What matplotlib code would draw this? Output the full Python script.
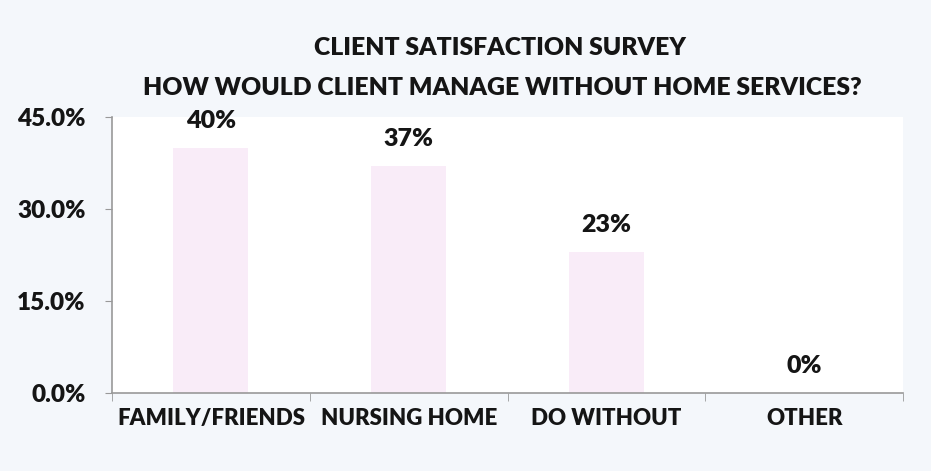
import numpy as np
import matplotlib.pyplot as plt
from matplotlib.ticker import FixedLocator, FuncFormatter

#-----DATA--------------------------------------------------------
categories = ["FAMILY/FRIENDS", "NURSING HOME", "DO WITHOUT", "OTHER"]
shares = [40, 37, 23, 0]       # percent of clients
y_ticks = [0, 15, 30, 45]
#-----/DATA-------------------------------------------------------

plt.rcParams['font.family'] = ['Lato', 'DejaVu Sans']
plt.rcParams['font.weight'] = 'heavy'
txt = '#151515'

fig = plt.figure(figsize=(9.31, 4.71), dpi=100, facecolor='#f4f7fb')
ax = fig.add_axes([0.1203, 0.1656, 0.8497, 0.586])
ax.set_facecolor('white')

x = np.arange(len(categories))
bars = ax.bar(x, shares, width=0.38, color='#f9ecf8', edgecolor='none')

for xi, v in zip(x, shares):
    ax.text(xi, v + 4.4, f"{v}%", ha='center', va='center',
            fontsize=18, fontweight='heavy', color=txt)

ax.set_xlim(-0.5, len(categories) - 0.5)
ax.set_ylim(0, 45)
ax.yaxis.set_major_locator(FixedLocator(y_ticks))
ax.yaxis.set_major_formatter(FuncFormatter(lambda v, p: f"{v:.1f}%"))
ax.set_xticks(x)
ax.set_xticklabels(categories)
ax.xaxis.set_minor_locator(FixedLocator(np.arange(len(categories) + 1) - 0.5))

ax.tick_params(axis='x', which='major', length=0, pad=11, labelsize=16, labelcolor=txt)
ax.tick_params(axis='x', which='minor', length=6, color='#999999')
ax.tick_params(axis='y', length=5, color='#999999', pad=14, labelsize=17.5, labelcolor=txt)

for s in ['top', 'right']:
    ax.spines[s].set_visible(False)
for s in ['left', 'bottom']:
    ax.spines[s].set_color('#999999')
    ax.spines[s].set_linewidth(1.2)

fig.text(0.537, 0.898, "CLIENT SATISFACTION SURVEY", ha='center', va='center',
         fontsize=17.8, fontweight='heavy', color=txt)
fig.text(0.540, 0.813, "HOW WOULD CLIENT MANAGE WITHOUT HOME SERVICES?", ha='center',
         va='center', fontsize=17.8, fontweight='heavy', color=txt)

fig.savefig("out.png", dpi=100, facecolor=fig.get_facecolor())
